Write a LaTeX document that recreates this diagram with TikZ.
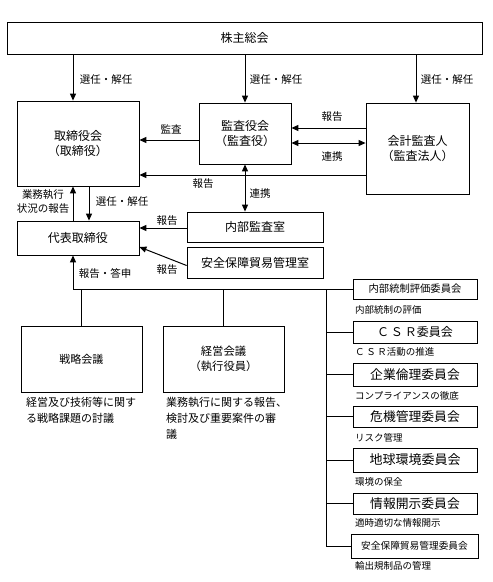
\documentclass[tikz,border=0pt]{standalone}
\usepackage{fontspec}
\setmainfont{Noto Sans CJK JP}
\usepackage{tikz}
\usetikzlibrary{arrows.meta}
\usetikzlibrary{calc}

\tikzset{
  box/.style={draw, line width=0.8pt, inner sep=0pt, align=center, font=\fontsize{12}{15}\selectfont},
  cbox/.style={box, minimum width=124pt},
  arr/.style={line width=1pt, -{Triangle[length=7pt,width=6pt]}},
  darr/.style={line width=1pt, {Triangle[length=7pt,width=6pt]}-{Triangle[length=7pt,width=6pt]}},
  ln/.style={line width=0.9pt},
  lbl/.style={font=\fontsize{10.5}{13}\selectfont, inner sep=0pt},
  desc/.style={font=\fontsize{9.5}{12}\selectfont, inner sep=0pt, anchor=west}
}

\begin{document}
\begin{tikzpicture}[x=1pt, y=-1pt]
	\useasboundingbox (0,0) rectangle (493,582);

	\node[box, minimum width=475pt, minimum height=32pt] (soukai) at (244.5,38) {株主総会};
	\node[box, minimum width=122pt, minimum height=85pt] (tori) at (78,143.5) {取締役会\\（取締役）};
	\node[box, minimum width=92pt, minimum height=61pt] (kansa) at (245,133.5) {監査役会\\（監査役）};
	\node[box, minimum width=103pt, minimum height=91pt] (kaikei) at (417.5,148.5) {会計監査人\\（監査法人）};
	\node[box, minimum width=122pt, minimum height=34pt] (daihyo) at (78,238) {代表取締役};
	\node[box, minimum width=136pt, minimum height=30pt] (naibu) at (255,227) {内部監査室};
	\node[box, minimum width=136pt, minimum height=31pt] (anpo) at (255,262.5) {安全保障貿易管理室};
	\node[box, minimum width=121pt, minimum height=66pt, font=\fontsize{11}{15}\selectfont] (senryaku) at (81.5,359) {戦略会議};
	\node[box, minimum width=121pt, minimum height=66pt, font=\fontsize{11.3}{15}\selectfont] (keiei) at (223.5,359) {経営会議\\（執行役員）};

	% committees
	\node[cbox, minimum height=20pt, font=\fontsize{10.3}{12}\selectfont] (c1) at (415,289) {内部統制評価委員会};
	\node[cbox, minimum height=22pt] (c2) at (415,332) {Ｃ\,Ｓ\,Ｒ委員会};
	\node[cbox, minimum height=23pt, font=\fontsize{12.8}{15}\selectfont] (c3) at (415,374.5) {企業倫理委員会};
	\node[cbox, minimum height=21pt, font=\fontsize{12.8}{15}\selectfont] (c4) at (415,416.5) {危機管理委員会};
	\node[cbox, minimum height=24pt, font=\fontsize{13}{15}\selectfont] (c5) at (415,460) {地球環境委員会};
	\node[cbox, minimum height=21pt, font=\fontsize{12.8}{15}\selectfont] (c6) at (415,503.5) {情報開示委員会};
	\node[cbox, minimum width=127pt, minimum height=24pt, font=\fontsize{9.7}{12}\selectfont] (c7) at (414.5,546) {安全保障貿易管理委員会};

	\node[desc] (d1) at (355,310) {内部統制の評価};
	\node[desc] (d2) at (355,352) {Ｃ\,Ｓ\,Ｒ活動の推進};
	\node[desc] (d3) at (355,396) {コンプライアンスの徹底};
	\node[desc] (d4) at (355,438) {リスク管理};
	\node[desc] (d5) at (355,482) {環境の保全};
	\node[desc] (d6) at (355,523) {適時適切な情報開示};
	\node[desc] (d7) at (355,566) {輸出規制品の管理};
	\node[desc, font=\fontsize{11}{16}\selectfont, align=left, anchor=north west] (ds) at (26,397) {経営及び技術等に関す\\る戦略課題の討議};
	\node[desc, font=\fontsize{11}{16}\selectfont, align=left, anchor=north west] (dk) at (166,397) {業務執行に関する報告、\\検討及び重要案件の審\\議};

	\coordinate (t1) at ([xshift=-5pt]tori.north);
	\coordinate (t2) at ([xshift=-5pt]tori.south);
	\coordinate (t3) at ([xshift=11pt]tori.south);
	\coordinate (k1) at ([yshift=-6.5pt]kansa.west);
	\coordinate (k2) at ([yshift=5.5pt]kansa.east);
	\coordinate (k3) at ([yshift=-9.5pt]kansa.east);
	\coordinate (k4) at ([yshift=-41.5pt]kansa.west);
	\coordinate (n1) at ([yshift=-1pt]naibu.west);
	\coordinate (a1) at ([yshift=-3pt]anpo.west);
	\coordinate (a2) at ([yshift=-9pt]daihyo.east);
	\coordinate (b1) at ([xshift=-5pt]daihyo.south);
	\coordinate (bus) at (b1 |- c1.west);
	\coordinate (sp) at (326,0);

	\draw[arr] (t1 |- soukai.south) -- (t1);
	\draw[arr] (soukai.south -| kansa.north) -- (kansa.north);
	\draw[arr] (soukai.south -| 416,0) -- (kaikei.north -| 416,0);
	\draw[arr] (k1) -- (k1 -| tori.east);
	\draw[arr] (k2 -| kaikei.west) -- (k2);
	\draw[darr] (k3) -- (k3 -| kaikei.west);
	\draw[arr] (k4 -| kaikei.west) -- (k4 -| tori.east);
	\draw[darr] (kansa.south) -- (kansa.south |- naibu.north);
	\draw[arr] (daihyo.north -| t2) -- (t2);
	\draw[arr] (t3) -- (t3 |- daihyo.north);
	\draw[arr] (n1) -- (n1 -| daihyo.east);
	\draw[arr] (a1) -- (a2);
	\draw[arr] (bus) -- (b1);
	\draw[ln] (bus) -- (c1.west);
	\draw[ln] (bus -| senryaku.north) -- (senryaku.north);
	\draw[ln] (bus -| keiei.north) -- (keiei.north);
	\draw[ln] (sp |- c1.west) -- (sp |- c7.west) -- (c7.west);
	\foreach \c in {c2,c3,c4,c5,c6}
		\draw[ln] (sp |- \c.west) -- (\c.west);

	\node[lbl] (l1) at (106,80) {選任・解任};
	\node[lbl] (l2) at (276,80) {選任・解任};
	\node[lbl] (l3) at (447,80) {選任・解任};
	\node[lbl] (l4) at (171,129) {監査};
	\node[lbl] (l5) at (332,117) {報告};
	\node[lbl] (l6) at (332,157) {連携};
	\node[lbl] (l7) at (203,184) {報告};
	\node[lbl] (l8) at (260,194) {連携};
	\node[lbl, align=center, font=\fontsize{10.5}{14}\selectfont] (l9) at (43,202) {業務執行\\状況の報告};
	\node[lbl] (l10) at (122,202) {選任・解任};
	\node[lbl] (l11) at (167,221) {報告};
	\node[lbl] (l12) at (167,270) {報告};
	\node[lbl] (l13) at (105,273) {報告・答申};
\end{tikzpicture}
\end{document}
